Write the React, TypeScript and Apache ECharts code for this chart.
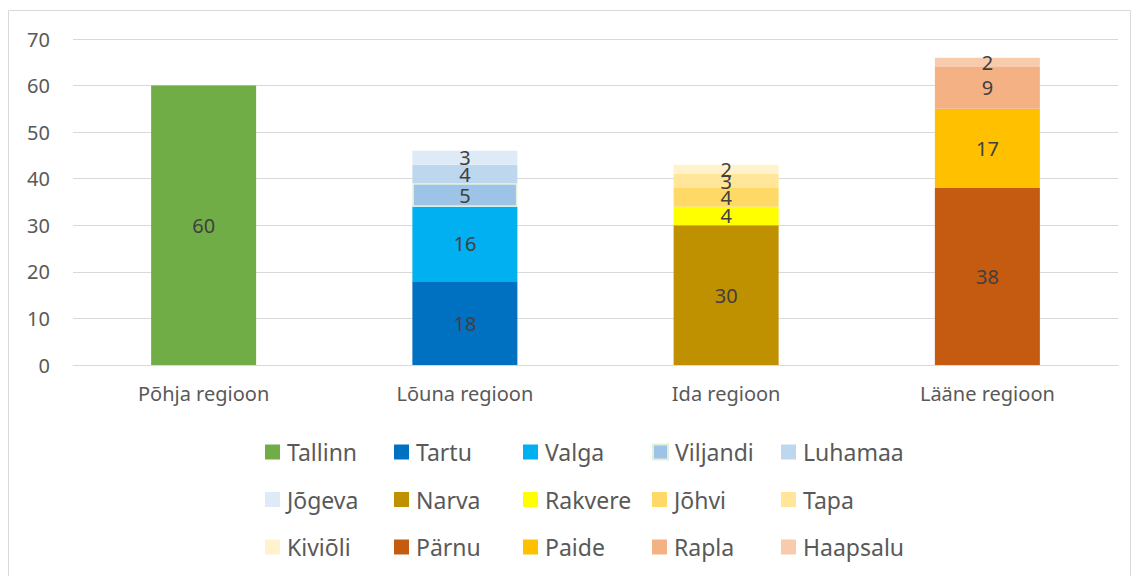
import React, { useEffect, useRef } from "react";
import * as echarts from "echarts";

const categories = ["Põhja regioon", "Lõuna regioon", "Ida regioon", "Lääne regioon"];
const yTicks = [0, 10, 20, 30, 40, 50, 60, 70];

const seriesNames = [
  "Tallinn", "Tartu", "Valga", "Viljandi", "Luhamaa",
  "Jõgeva", "Narva", "Rakvere", "Jõhvi", "Tapa",
  "Kiviõli", "Pärnu", "Paide", "Rapla", "Haapsalu",
];
const seriesColors = [
  "#70AD47", "#0070C0", "#00B0F0", "#9DC3E6", "#BDD7EE",
  "#DEEBF7", "#BF9000", "#FFFF00", "#FFD966", "#FFE699",
  "#FFF2CC", "#C55A11", "#FFC000", "#F4B183", "#F8CBAD",
];
// values per series across the 4 regions (null = not present)
const tallinn = [60, null, null, null];
const tartu = [null, 18, null, null];
const valga = [null, 16, null, null];
const viljandi = [null, 5, null, null];
const luhamaa = [null, 4, null, null];
const jogeva = [null, 3, null, null];
const narva = [null, null, 30, null];
const rakvere = [null, null, 4, null];
const johvi = [null, null, 4, null];
const tapa = [null, null, 3, null];
const kivioli = [null, null, 2, null];
const parnu = [null, null, null, 38];
const paide = [null, null, null, 17];
const rapla = [null, null, null, 9];
const haapsalu = [null, null, null, 2];
const seriesValues = [
  tallinn, tartu, valga, viljandi, luhamaa,
  jogeva, narva, rakvere, johvi, tapa,
  kivioli, parnu, paide, rapla, haapsalu,
];

const FONT = "'Noto Sans', sans-serif";

export default function App() {
  const ref = useRef<HTMLDivElement>(null);
  useEffect(() => {
    document.body.style.margin = "0";
    const chart = echarts.init(ref.current!, null, { renderer: "svg" });
    const legends = seriesNames.map((name, i) => ({
      show: true,
      data: [name],
      left: 265 + (i % 5) * 129,
      top: 440 + Math.floor(i / 5) * 47.5,
      padding: 0,
      orient: "horizontal",
      itemWidth: 15,
      itemHeight: 15,
      itemGap: 6,
      icon: "rect",
      selectedMode: false,
      textStyle: { fontFamily: FONT, fontSize: 23, lineHeight: 24, color: "#595959", padding: [0, 0, 0, 2] },
    }));
    chart.setOption({
      animation: false,
      textStyle: { fontFamily: FONT },
      grid: { left: 73, right: 16, top: 39, bottom: 211, containLabel: false },
      graphic: [
        {
          type: "rect",
          shape: { x: 8.5, y: 10.5, width: 1122, height: 570 },
          style: { fill: "none", stroke: "#d9d9d9", lineWidth: 1 },
          silent: true,
        },
      ],
      legend: legends,
      xAxis: {
        type: "category",
        data: categories,
        axisLine: { show: true, lineStyle: { color: "#d9d9d9", width: 1 } },
        axisTick: { show: false },
        axisLabel: { fontFamily: FONT, fontSize: 20, color: "#595959", margin: 18 },
      },
      yAxis: {
        type: "value",
        min: yTicks[0],
        max: yTicks[yTicks.length - 1],
        interval: 10,
        axisLine: { show: false },
        axisTick: { show: false },
        splitLine: { lineStyle: { color: "#d9d9d9", width: 1 } },
        axisLabel: { fontFamily: FONT, fontSize: 20, color: "#595959", margin: 23 },
      },
      series: seriesNames.map((name, i) => ({
        name,
        type: "bar",
        stack: "total",
        barWidth: 105,
        data: seriesValues[i],
        itemStyle:
          name === "Viljandi"
            ? { color: seriesColors[i], borderColor: "#E2EFDA", borderWidth: 1.5 }
            : { color: seriesColors[i] },
        label: {
          show: true,
          position: "inside",
          fontFamily: FONT,
          fontSize: 20,
          color: "#404040",
        },
      })),
    });
    return () => chart.dispose();
  }, []);
  return <div ref={ref} style={{ width: 1134, height: 576 }} />;
}
